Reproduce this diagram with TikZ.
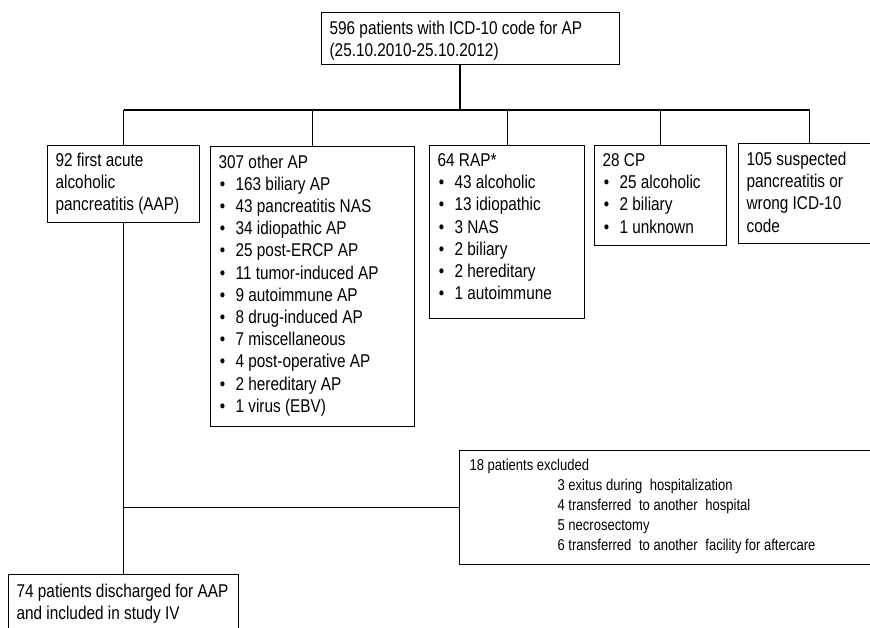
\documentclass[tikz,border=0pt]{standalone}
\usepackage{fontspec}
\setmainfont{Liberation Sans}[FakeStretch=0.83]
\newcommand\bxt[4]{\parbox[c][#2pt][t]{#1pt}{\raggedright\vspace*{#3pt}#4}}
\newcommand\itm{\\\makebox[17pt][l]{\hspace*{1.3pt}\textbullet}}
\newcommand\wsp{\hspace{4pt} }
\begin{document}
\begin{tikzpicture}[x=1pt,y=-1pt,
  box/.style={draw, line width=1.2pt, inner xsep=8pt, inner ysep=0pt, anchor=north west,
    font=\fontsize{18.5}{22.2}\selectfont},
  smallbox/.style={box, inner xsep=10pt, font=\fontsize{15.7}{20}\selectfont},
  conn/.style={line width=1.2pt}]
\useasboundingbox (0,0) rectangle (870,627);
\clip (0,0) rectangle (870,627);
\node[box] (top) at (321,12) {\bxt{282}{52}{8}{596 patients with ICD-10 code for AP\\(25.10.2010-25.10.2012)}};
\node[box] (b1) at (47,145) {\bxt{136}{77}{7}{92 first acute\\alcoholic\\pancreatitis (AAP)}};
\node[box] (b2) at (210,146) {\bxt{188}{280}{8}{307 other AP\itm 163 biliary AP\itm 43 pancreatitis NAS\itm 34 idiopathic AP\itm 25 post-ERCP AP\itm 11 tumor-induced AP\itm 9 autoimmune AP\itm 8 drug-induced AP\itm 7 miscellaneous\itm 4 post-operative AP\itm 2 hereditary AP\itm 1 virus (EBV)}};
\node[box] (b3) at (429,145) {\bxt{139}{173}{8}{64 RAP*\itm 43 alcoholic\itm 13 idiopathic\itm 3 NAS\itm 2 biliary\itm 2 hereditary\itm 1 autoimmune}};
\node[box] (b4) at (594,145) {\bxt{116}{100}{8}{28 CP\itm 25 alcoholic\itm 2 biliary\itm 1 unknown}};
\node[box] (b5) at (738,143) {\bxt{126}{100}{8.5}{105 suspected\\pancreatitis or\\wrong ICD-10\\code}};
\node[smallbox] (excl) at (459,450) {\bxt{410}{114}{8.7}{18 patients excluded\\\hspace*{88pt}3 exitus during\wsp hospitalization\\\hspace*{88pt}4 transferred\wsp to another\wsp hospital\\\hspace*{88pt}5 necrosectomy\\\hspace*{88pt}6 transferred\wsp to another\wsp facility for aftercare}};
\node[box] (bot) at (8,574) {\bxt{214}{70}{9.6}{\mbox{74 patients discharged for AAP}\\\mbox{and included in study IV}}};
\coordinate (split) at (460,110);
\draw[conn] (top.south -| split) -- (split);
\draw[conn] (b1.north |- split) -- (b5.north |- split);
\foreach \b in {b1,b2,b3,b4,b5} \draw[conn] (\b.north |- split) -- (\b.north);
\draw[conn] (b1.south) -- (bot.north);
\draw[conn] (b1.south |- excl.west) -- (excl.west);
\end{tikzpicture}
\end{document}
